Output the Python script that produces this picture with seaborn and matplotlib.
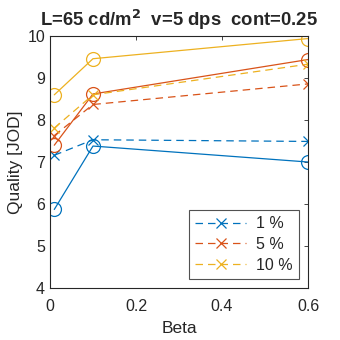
import matplotlib
matplotlib.use("Agg")
import matplotlib.pyplot as plt
import seaborn as sns
import pandas as pd
from matplotlib.lines import Line2D

beta = [0.01, 0.1, 0.6]
labels = ["1 %", "5 %", "10 %"]
solid_vals = {
    "1 %": [5.87, 7.38, 7.00],
    "5 %": [7.40, 8.62, 9.44],
    "10 %": [8.60, 9.46, 9.94],
}
dashed_vals = {
    "1 %": [7.16, 7.53, 7.49],
    "5 %": [7.63, 8.37, 8.86],
    "10 %": [7.81, 8.60, 9.33],
}
colors = ["#0072BD", "#D95319", "#EDB120"]

sns.set_style("white")
plt.rcParams["font.family"] = ["Liberation Sans", "DejaVu Sans"]

fig = plt.figure(figsize=(3.4, 3.4), dpi=100)
ax = fig.add_axes([0.147, 0.153, 0.759, 0.741])

handles = []
for lab, c in zip(labels, colors):
    sns.lineplot(x=beta, y=solid_vals[lab], ax=ax, color=c, lw=0.9,
                 marker="o", markersize=10, markerfacecolor="none",
                 markeredgecolor=c, markeredgewidth=0.9, legend=False)
    sns.lineplot(x=beta, y=dashed_vals[lab], ax=ax, color=c, lw=0.9,
                 linestyle=(0, (6, 4)), marker="x", markersize=7,
                 markeredgecolor=c, markeredgewidth=0.9, legend=False)
    handles.append(Line2D([], [], color=c, lw=0.9, linestyle=(0, (6, 4)),
                          marker="x", markersize=7, markeredgewidth=0.9))

ax.set_xlim(0, 0.6)
ax.set_ylim(4, 10)
ax.set_xticks([0, 0.2, 0.4, 0.6])
ax.set_xticklabels(["0", "0.2", "0.4", "0.6"])
ax.set_yticks([4, 5, 6, 7, 8, 9, 10])
ax.tick_params(direction="in", length=3, width=0.6, labelsize=11.5,
               top=True, right=True, colors="#262626", labelcolor="#262626")
ax.tick_params(axis="x", pad=8)
for s in ax.spines.values():
    s.set_linewidth(0.8)
    s.set_color("#262626")
    s.set_visible(True)

ax.set_xlabel("Beta", fontsize=12.5, color="#262626", labelpad=5)
ax.set_ylabel("Quality [JOD]", fontsize=12.5, color="#262626", labelpad=3)
ax.set_title("L=65 cd/m$^\\mathbf{2}$  v=5 dps  cont=0.25", fontsize=13.3,
             fontweight="bold", pad=7)

leg = ax.legend(handles, labels, loc="lower right",
                bbox_to_anchor=(0.965, 0.036), borderaxespad=0,
                fontsize=11.5, frameon=True,
                fancybox=False, edgecolor="#262626", handlelength=3.2,
                borderpad=0.4, labelspacing=0.35, handletextpad=0.6)
leg.get_frame().set_linewidth(0.8)

fig.savefig("out.png", dpi=100)
